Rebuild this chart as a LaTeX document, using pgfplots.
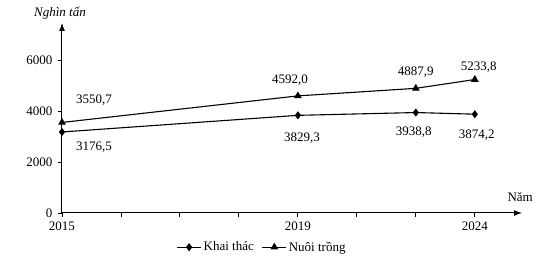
\documentclass[border=0pt]{standalone}
\usepackage{fontspec}
\setmainfont{Liberation Serif}
\usepackage{pgfplots}
\pgfplotsset{compat=1.18}
\usetikzlibrary{arrows.meta}
\begin{document}
\begin{tikzpicture}[font=\fontsize{13}{15}\selectfont]
\begin{axis}[
  scale only axis, width=460pt, height=190pt,
  at={(0,0)}, anchor=south west,
  xmin=0, xmax=7.8, ymin=0, ymax=7450,
  axis lines=left,
  axis line style={line width=1pt, -{Latex[length=8pt,width=6pt]}},
  xtick={0,1,2,3,4,5,6,7}, xticklabels={2015,,,,2019,,,2024},
  ytick={0,2000,4000,6000},
  tick align=outside, major tick length=4pt,
  tick style={black, line width=0.9pt},
  yticklabel style={/pgf/number format/1000 sep={}, /pgf/number format/assume math mode=true, xshift=-2pt},
  xticklabel style={yshift=-1pt},
  legend style={at={(0.435,-0.18)}, anchor=center, draw=none, fill=none,
    legend columns=2, /tikz/every even column/.append style={column sep=6pt},
    font=\fontsize{13}{15}\selectfont, inner sep=0pt},
  legend image code/.code={\draw[mark repeat=2,mark phase=2] plot coordinates {(0cm,0cm) (0.42cm,0cm) (0.84cm,0cm)};},
  clip=false,
]
\addplot[black, line width=1.1pt, mark=diamond*, mark size=3.2pt, mark options={solid,fill=black}]
  coordinates {(0,3176.5) (4,3829.3) (6,3938.8) (7,3874.2)};
\addlegendentry{Khai thác}
\addplot[black, line width=1.1pt, mark=triangle*, mark size=3.4pt, mark options={solid,fill=black}]
  coordinates {(0,3550.7) (4,4592.0) (6,4887.9) (7,5233.8)};
\addlegendentry{Nuôi trồng}

\node at (axis cs:0,3550.7) [xshift=32pt, yshift=22.5pt] {3550,7};
\node at (axis cs:0,3176.5) [xshift=32pt, yshift=-15pt] {3176,5};
\node at (axis cs:4,4592.0) [xshift=-8pt, yshift=16pt] {4592,0};
\node at (axis cs:4,3829.3) [xshift=4pt, yshift=-23pt] {3829,3};
\node at (axis cs:6,4887.9) [xshift=0pt, yshift=16pt] {4887,9};
\node at (axis cs:6,3938.8) [xshift=-2pt, yshift=-20pt] {3938,8};
\node at (axis cs:7,5233.8) [xshift=4pt, yshift=12pt] {5233,8};
\node at (axis cs:7,3874.2) [xshift=2pt, yshift=-21pt] {3874,2};

\node at (rel axis cs:0,1) [xshift=-2pt, yshift=10pt] {\textit{Nghìn tấn}};
\node at (rel axis cs:0.996,0) [yshift=16pt] {Năm};
\end{axis}
\pgfresetboundingbox
\path[use as bounding box] (-62pt,-59pt) rectangle (486pt,213pt);
\end{tikzpicture}
\end{document}
